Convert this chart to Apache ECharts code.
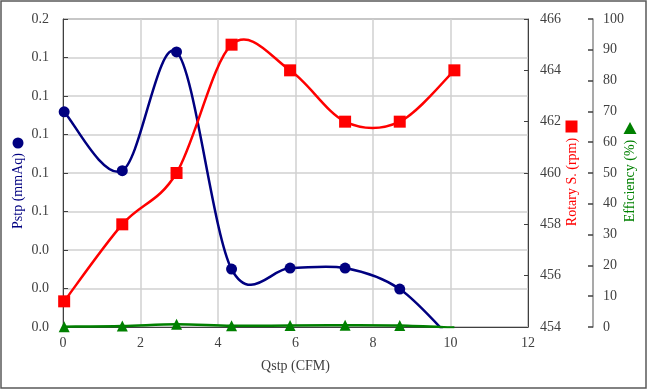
<!DOCTYPE html>
<html>
<head>
<meta charset="utf-8">
<script src="https://cdn.jsdelivr.net/npm/echarts@6/dist/echarts.min.js"></script>
<style>html,body{margin:0;padding:0;background:#fff}#c{width:647px;height:390px}</style>
</head>
<body>
<div id="c"></div>
<script>
// Data
const qstp = [0.03, 1.53, 2.93, 4.35, 5.86, 7.28, 8.69, 10.1];          // CFM
const pstp = [0.1118, 0.0812, 0.1429, 0.0301, 0.0306, 0.0306, 0.0197, -0.008]; // mmAq
const rpm = [455, 458, 460, 465, 464, 462, 462, 464];                   // rpm
const eff = [0.1, 0.3, 0.9, 0.4, 0.5, 0.6, 0.5, -0.2];                  // %
const xTicks = {min: 0, max: 12, interval: 2};
const pTicks = {min: 0, max: 0.16, interval: 0.02};
const rTicks = {min: 454, max: 466, interval: 2};
const eTicks = {min: 0, max: 100, interval: 10};

const FONT = 'Liberation Serif';
const LBL = '#404040';

// Excel-style smoothed line (Catmull-Rom bezier) drawn through the axis scales
function smoothLine(ys, color, yAxisIndex) {
  return {
    type: 'custom', yAxisIndex: yAxisIndex, clip: true, silent: true,
    lineStyle: {width: 2.5},
    data: qstp.map((x, i) => [x, ys[i]]),
    renderItem: function (params, api) {
      if (params.dataIndex !== 0) return null;
      const p = qstp.map((x, i) => api.coord([x, ys[i]]));
      const n = p.length;
      let d = 'M' + p[0][0] + ' ' + p[0][1];
      for (let i = 0; i < n - 1; i++) {
        const p0 = p[Math.max(i - 1, 0)], p1 = p[i], p2 = p[i + 1], p3 = p[Math.min(i + 2, n - 1)];
        const c1 = [p1[0] + (p2[0] - p0[0]) / 6, p1[1] + (p2[1] - p0[1]) / 6];
        const c2 = [p2[0] - (p3[0] - p1[0]) / 6, p2[1] - (p3[1] - p1[1]) / 6];
        d += ' C' + c1[0] + ' ' + c1[1] + ' ' + c2[0] + ' ' + c2[1] + ' ' + p2[0] + ' ' + p2[1];
      }
      return {type: 'path', shape: {pathData: d}, style: {fill: 'none', stroke: color, lineWidth: 2.5, lineJoin: 'round'}};
    }
  };
}
function markers(ys, color, yAxisIndex, symbol, size) {
  return {
    type: 'scatter', yAxisIndex: yAxisIndex, clip: true, silent: true,
    symbol: symbol, symbolSize: size,
    itemStyle: {color: color, opacity: 1},
    data: qstp.map((x, i) => [x, ys[i]]).filter(d => d[1] >= 0)
  };
}

const chart = echarts.init(document.getElementById('c'), null, {renderer: 'canvas'});
chart.setOption({
  animation: false,
  backgroundColor: '#fff',
  textStyle: {fontFamily: FONT},
  grid: {left: 63, right: 119, top: 19, bottom: 63, show: true, borderColor: '#595959', borderWidth: 1, backgroundColor: 'transparent'},
  xAxis: {
    type: 'value', min: xTicks.min, max: xTicks.max, interval: xTicks.interval,
    name: 'Qstp (CFM)', nameLocation: 'middle', nameGap: 32,
    nameTextStyle: {fontFamily: FONT, fontSize: 14, color: LBL},
    axisLine: {show: true, onZero: false, lineStyle: {color: '#404040', width: 1}},
    axisTick: {show: false},
    axisLabel: {fontFamily: FONT, fontSize: 14, color: LBL, margin: 9},
    splitLine: {show: true, lineStyle: {color: '#d0d0d0', width: 1.5}}
  },
  yAxis: [
    {
      type: 'value', position: 'left', min: pTicks.min, max: pTicks.max, interval: pTicks.interval,
      axisLine: {show: true, lineStyle: {color: '#404040', width: 1}},
      axisTick: {show: true, inside: true, length: 5, lineStyle: {color: '#404040'}},
      axisLabel: {fontFamily: FONT, fontSize: 14, color: LBL, margin: 14, formatter: v => v.toFixed(1)},
      splitLine: {show: true, lineStyle: {color: '#d0d0d0', width: 1.5}}
    },
    {
      type: 'value', position: 'right', min: rTicks.min, max: rTicks.max, interval: rTicks.interval,
      axisLine: {show: true, lineStyle: {color: '#404040', width: 1}},
      axisTick: {show: true, inside: true, length: 4, lineStyle: {color: '#404040'}},
      axisLabel: {fontFamily: FONT, fontSize: 14, color: LBL, margin: 12},
      splitLine: {show: false}
    },
    {
      type: 'value', position: 'right', offset: 65, min: eTicks.min, max: eTicks.max, interval: eTicks.interval,
      axisLine: {show: true, lineStyle: {color: '#8c8c8c', width: 1.5}},
      axisTick: {show: true, inside: true, length: 5, lineStyle: {color: '#404040', width: 1.5}},
      axisLabel: {fontFamily: FONT, fontSize: 14, color: LBL, margin: 10},
      splitLine: {show: false}
    }
  ],
  series: [
    smoothLine(pstp, '#000080', 0),
    markers(pstp, '#000080', 0, 'circle', 11),
    smoothLine(rpm, '#ff0000', 1),
    markers(rpm, '#ff0000', 1, 'rect', 12),
    smoothLine(eff, '#008000', 2),
    markers(eff, '#008000', 2, 'triangle', 11)
  ],
  graphic: [
    {type: 'rect', silent: true, shape: {x: 1, y: 1, width: 645, height: 387}, style: {fill: 'none', stroke: '#595959', lineWidth: 1.5}},
    {type: 'text', silent: true, x: 18, y: 191, rotation: Math.PI / 2,
      style: {text: 'Pstp (mmAq)', fill: '#000080', font: '14px "' + FONT + '"', align: 'center', verticalAlign: 'middle'}},
    {type: 'circle', silent: true, shape: {cx: 18, cy: 143, r: 5.5}, style: {fill: '#000080'}},
    {type: 'text', silent: true, x: 572, y: 182, rotation: Math.PI / 2,
      style: {text: 'Rotary S. (rpm)', fill: '#ff0000', font: '14px "' + FONT + '"', align: 'center', verticalAlign: 'middle'}},
    {type: 'rect', silent: true, shape: {x: 565.5, y: 120.5, width: 12, height: 12}, style: {fill: '#ff0000'}},
    {type: 'text', silent: true, x: 630, y: 181, rotation: Math.PI / 2,
      style: {text: 'Efficiency (%)', fill: '#008000', font: '14px "' + FONT + '"', align: 'center', verticalAlign: 'middle'}},
    {type: 'polygon', silent: true, shape: {points: [[630, 122], [636.5, 134], [623.5, 134]]}, style: {fill: '#008000'}}
  ]
});
</script>
</body>
</html>
